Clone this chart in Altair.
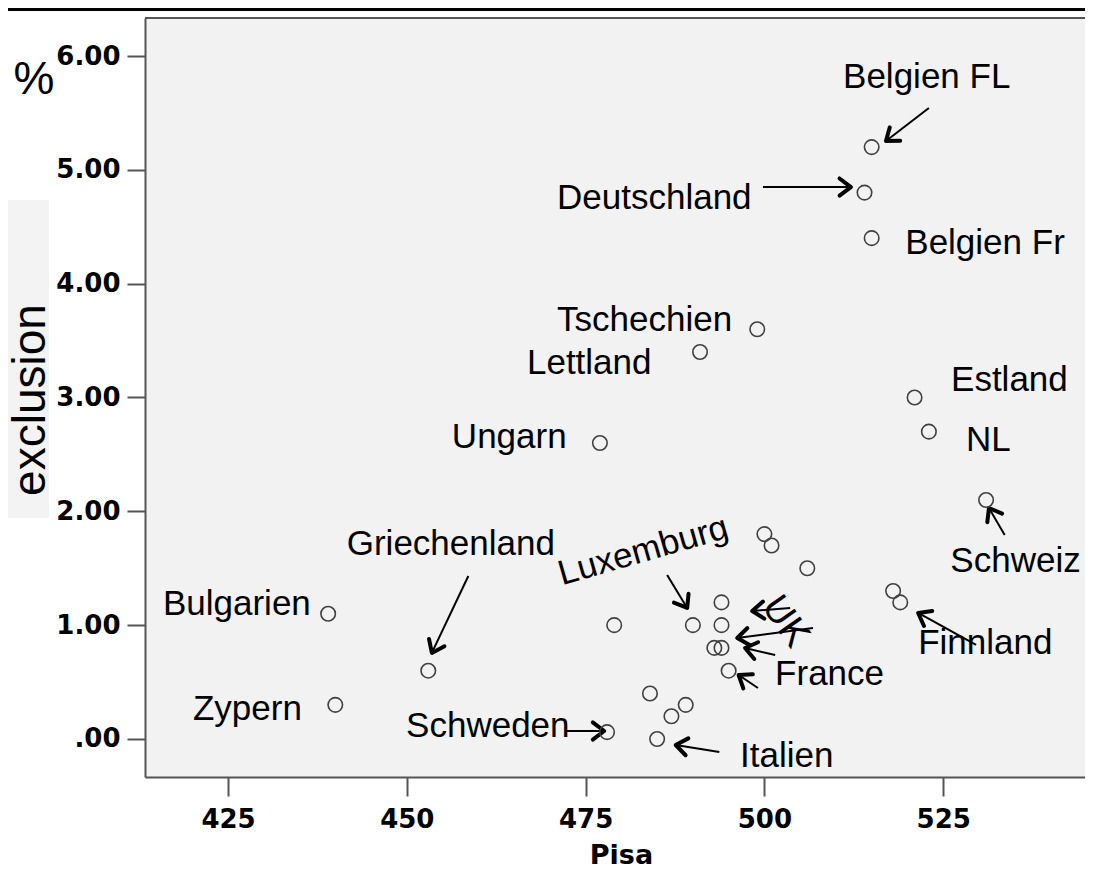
import math
import altair as alt
import pandas as pd

# ---------------- data ----------------
pisa = [515, 514, 515, 499, 491, 521, 523, 477, 531,
        500, 501, 506, 518, 519,
        494, 494, 490, 479, 493, 494, 495,
        484, 489, 487, 478, 485,
        453, 439, 440]
exclusion = [5.2, 4.8, 4.4, 3.6, 3.4, 3.0, 2.7, 2.6, 2.1,
             1.8, 1.7, 1.5, 1.3, 1.2,
             1.2, 1.0, 1.0, 1.0, 0.8, 0.8, 0.6,
             0.4, 0.3, 0.2, 0.06, 0.0,
             0.6, 1.1, 0.3]

x_ticks = [425, 450, 475, 500, 525]
y_ticks = [0, 1, 2, 3, 4, 5, 6]

# annotation labels (data units: left edge / baseline)
label_text = ["Belgien FL", "Deutschland", "Belgien Fr", "Tschechien", "Lettland",
              "Estland", "NL", "Ungarn", "Schweiz", "Griechenland", "Bulgarien",
              "Zypern", "Schweden", "Italien", "France", "Finnland"]
label_x = [511.0, 471.0, 519.7, 471.0, 466.8, 526.1, 528.2, 456.3, 526.0,
           441.6, 415.9, 420.1, 449.9, 496.6, 501.5, 521.5]
label_y = [5.72, 4.66, 4.26, 3.58, 3.21, 3.06, 2.53, 2.56, 1.47,
           1.62, 1.09, 0.17, 0.02, -0.25, 0.47, 0.75]

lux_text, lux_x, lux_y, lux_angle = ["Luxemburg"], [471.7], [1.35], [344]
uk_text, uk_x, uk_y, uk_angle = ["UK"], [502.9], [1.03], [55]

# arrows: tail (x1, y1) -> head (x2, y2), data units
arrow_x1 = [523.0, 499.8, 458.6, 486.4, 472.4, 493.7, 499.1, 529.6, 533.6, 506.8, 503.6, 501.5]
arrow_y1 = [5.543, 4.849, 1.432, 1.441, 0.070, -0.114, 0.448, 0.826, 1.792, 0.975, 1.151, 0.738]
arrow_x2 = [517.0, 512.1, 453.5, 489.2, 477.6, 487.6, 496.4, 521.5, 531.4, 496.2, 498.3, 497.3]
arrow_y2 = [5.253, 4.849, 0.756, 1.151, 0.070, -0.053, 0.562, 1.107, 2.029, 0.887, 1.124, 0.799]

# ---------------- layout ----------------
W, H = 940, 759
X_DOMAIN = [413.39, 544.83]
Y_DOMAIN = [-0.334, 6.334]
kx = W / (X_DOMAIN[1] - X_DOMAIN[0])
ky = H / (Y_DOMAIN[1] - Y_DOMAIN[0])

TEXT_FONT = "Liberation Sans"
TICK_FONT = "DejaVu Sans"
FS = 35

xs = alt.Scale(domain=X_DOMAIN, nice=False, zero=False)
ys = alt.Scale(domain=Y_DOMAIN, nice=False, zero=False)

x_axis = alt.Axis(values=x_ticks, format="d", labelFont=TICK_FONT, labelFontWeight="bold",
                  labelFontSize=26, labelColor="black", tickSize=19, tickWidth=2,
                  tickColor="#555555", domainColor="#555555", domainWidth=2,
                  labelPadding=10, grid=False, labelFlush=False, labelOverlap=False,
                  title="Pisa", titleFont=TICK_FONT, titleFontSize=27, titleFontWeight="bold",
                  titleColor="black", titleX=476, titleY=86, titleAlign="center",
                  titleBaseline="alphabetic", zindex=1)
y_axis = alt.Axis(values=y_ticks,
                  labelExpr="datum.value == 0 ? '.00' : format(datum.value, '.2f')",
                  labelFont=TICK_FONT, labelFontWeight="bold", labelFontSize=26,
                  labelColor="black", tickSize=18, tickWidth=2, tickColor="#555555",
                  domainColor="#555555", domainWidth=2, labelPadding=7, grid=False,
                  labelOverlap=False, title=None, zindex=1)

X = alt.X("x:Q", scale=xs, axis=x_axis)
Y = alt.Y("y:Q", scale=ys, axis=y_axis)

pts = pd.DataFrame({"x": pisa, "y": exclusion})
labels = pd.DataFrame({"x": label_x, "y": label_y, "t": label_text})
lux = pd.DataFrame({"x": lux_x, "y": lux_y, "t": lux_text, "a": lux_angle})
uk = pd.DataFrame({"x": uk_x, "y": uk_y, "t": uk_text, "a": uk_angle})
arrows = pd.DataFrame({"x": arrow_x1, "y": arrow_y1, "x2": arrow_x2, "y2": arrow_y2})
arrows["ang"] = [
    math.degrees(math.atan2(-(b2 - b1) * ky, (a2 - a1) * kx)) % 360
    for a1, b1, a2, b2 in zip(arrow_x1, arrow_y1, arrow_x2, arrow_y2)
]
heads = pd.DataFrame({"x": arrow_x2, "y": arrow_y2, "ang": arrows["ang"]})
one = pd.DataFrame({"a": [0]})

box = alt.Chart(one).mark_rect(color="#f3f3f3").encode(
    x=alt.value(-137), x2=alt.value(-96), y=alt.value(182), y2=alt.value(500))
ytitle = alt.Chart(one).mark_text(text="exclusion", font="Liberation Sans", fontSize=46,
                                  angle=270, align="center", baseline="alphabetic",
                                  color="black").encode(
    x=alt.value(-100), y=alt.value(382))
topbar = alt.Chart(one).mark_rule(color="black", strokeWidth=3).encode(
    x=alt.value(-137), x2=alt.value(W), y=alt.value(-8.5))
frame_top = alt.Chart(one).mark_rule(color="#555555", strokeWidth=2).encode(
    x=alt.value(0), x2=alt.value(W), y=alt.value(0))
percent = alt.Chart(one).mark_text(text="%", font="Liberation Sans", fontSize=46,
                                   align="center", baseline="alphabetic", color="black").encode(
    x=alt.value(-111), y=alt.value(76))

points = alt.Chart(pts).mark_point(shape="circle", filled=False, size=210,
                                   stroke="#404040", strokeWidth=1.6, opacity=1).encode(x=X, y=Y)

shafts = alt.Chart(arrows).mark_rule(color="black", strokeWidth=2).encode(
    x=X, y=Y, x2="x2:Q", y2="y2:Q")
CHEVRON = "M -1 -0.75 L 0 0 L -1 0.75"
arrowheads = alt.Chart(heads).mark_point(shape=CHEVRON, filled=False, size=520,
                                         stroke="black", strokeWidth=4, strokeCap="round",
                                         strokeJoin="round", opacity=1).encode(
    x=X, y=Y, angle=alt.Angle("ang:Q", scale=None))

texts = alt.Chart(labels).mark_text(font=TEXT_FONT, fontSize=FS, align="left",
                                    baseline="alphabetic", color="black").encode(
    x=X, y=Y, text="t:N")
lux_t = alt.Chart(lux).mark_text(font=TEXT_FONT, fontSize=FS, align="left",
                                 baseline="alphabetic", color="black").encode(
    x=X, y=Y, text="t:N", angle=alt.Angle("a:Q", scale=None))
uk_t = alt.Chart(uk).mark_text(font=TEXT_FONT, fontSize=38, align="center",
                               baseline="middle", color="black").encode(
    x=X, y=Y, text="t:N", angle=alt.Angle("a:Q", scale=None))

chart = alt.layer(
    box, ytitle, topbar, frame_top, percent, shafts, arrowheads, points, texts, lux_t, uk_t
).properties(
    width=W, height=H,
    padding={"left": 137, "top": 10, "right": 0, "bottom": 91},
    autosize=alt.AutoSizeParams(type="none"),
    background="white",
).configure_view(stroke=None, fill="#f2f2f2")

chart.save("out.html", embed_options={"renderer": "svg", "actions": False})
